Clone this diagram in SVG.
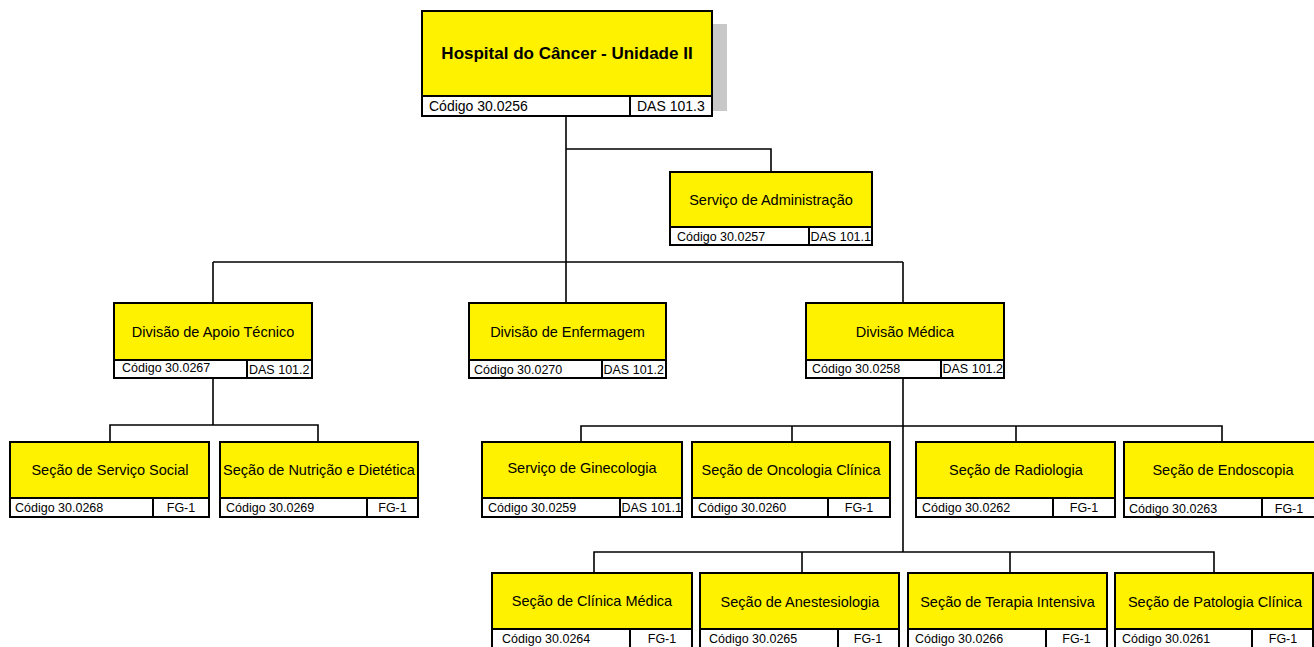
<svg xmlns="http://www.w3.org/2000/svg" width="1314" height="647" viewBox="0 0 1314 647">
<style>
.bg{fill:#ffffff}
.y{fill:#FFF200;stroke:#000;stroke-width:2}
.w{fill:#ffffff;stroke:#000;stroke-width:2}
.d{stroke:#000;stroke-width:2}
.c{fill:none;stroke:#000;stroke-width:1.6}
.lbl{font-family:"Liberation Sans",Arial,sans-serif;font-size:14.5px;fill:#000;text-anchor:middle}
.ttl{font-family:"Liberation Sans",Arial,sans-serif;font-size:17px;font-weight:bold;fill:#000;text-anchor:middle}
.cd{font-family:"Liberation Sans",Arial,sans-serif;font-size:12.5px;fill:#000}
.cdt{font-family:"Liberation Sans",Arial,sans-serif;font-size:14px;fill:#000}
.fg{font-family:"Liberation Sans",Arial,sans-serif;font-size:12.5px;fill:#000;text-anchor:middle}
</style>
<rect class="bg" x="0" y="0" width="1314" height="647"/>
<g id="connectors">
<path class="c" d="M566 116 V303"/>
<path class="c" d="M566 149 H771 V172"/>
<path class="c" d="M213 262 H903"/>
<path class="c" d="M213 262 V303"/>
<path class="c" d="M903 262 V303"/>
<path class="c" d="M213 378 V425"/>
<path class="c" d="M110 442 V425 H318 V442"/>
<path class="c" d="M903 378 V552"/>
<path class="c" d="M581 442 V426 H1222 V442"/>
<path class="c" d="M792 426 V442"/>
<path class="c" d="M1016 426 V442"/>
<path class="c" d="M594 573 V552 H1214 V573"/>
<path class="c" d="M802 552 V573"/>
<path class="c" d="M1010 552 V573"/>
</g>
<g id="n-hospital">
<rect x="712" y="24" width="15" height="87" fill="#c8c8c8"/>
<rect class="y" x="422" y="11" width="290" height="85"/>
<rect class="w" x="422" y="96" width="290" height="20"/>
<line class="d" x1="630" y1="96" x2="630" y2="116"/>
<text class="ttl" x="567" y="58.5">Hospital do Câncer - Unidade II</text>
<text class="cdt" x="429" y="110.5">Código 30.0256</text>
<text class="cdt" x="637" y="110.5">DAS 101.3</text>
</g>
<g id="n-admin">
<rect class="y" x="670" y="172" width="202" height="55"/>
<rect class="w" x="670" y="227" width="202" height="18"/>
<line class="d" x1="809" y1="227" x2="809" y2="245"/>
<text class="lbl" x="771" y="205">Serviço de Administração</text>
<text class="cd" x="677" y="240.5">Código 30.0257</text>
<text class="cd" x="810.5" y="240.5">DAS 101.1</text>
</g>
<g id="n-apoio">
<rect class="y" x="114" y="303" width="198" height="57"/>
<rect class="w" x="114" y="360" width="198" height="18"/>
<line class="d" x1="247" y1="360" x2="247" y2="378"/>
<text class="lbl" x="213" y="336.5">Divisão de Apoio Técnico</text>
<text class="cd" x="122" y="372">Código 30.0267</text>
<text class="cd" x="249" y="373.5">DAS 101.2</text>
</g>
<g id="n-enfermagem">
<rect class="y" x="469" y="303" width="197" height="57"/>
<rect class="w" x="469" y="360" width="197" height="18"/>
<line class="d" x1="602" y1="360" x2="602" y2="378"/>
<text class="lbl" x="567.5" y="336.5">Divisão de Enfermagem</text>
<text class="cd" x="474" y="373.5">Código 30.0270</text>
<text class="cd" x="603.5" y="373.5">DAS 101.2</text>
</g>
<g id="n-medica">
<rect class="y" x="806" y="303" width="198" height="57"/>
<rect class="w" x="806" y="360" width="198" height="18"/>
<line class="d" x1="941" y1="360" x2="941" y2="378"/>
<text class="lbl" x="905" y="336.5">Divisão Médica</text>
<text class="cd" x="812" y="373">Código 30.0258</text>
<text class="cd" x="942.5" y="373">DAS 101.2</text>
</g>
<g id="n-social">
<rect class="y" x="10" y="442" width="199" height="56"/>
<rect class="w" x="10" y="498" width="199" height="19"/>
<line class="d" x1="153" y1="498" x2="153" y2="517"/>
<text class="lbl" x="110" y="475">Seção de Serviço Social</text>
<text class="cd" x="15" y="512">Código 30.0268</text>
<text class="fg" x="181" y="512">FG-1</text>
</g>
<g id="n-nutricao">
<rect class="y" x="220" y="442" width="198" height="56"/>
<rect class="w" x="220" y="498" width="198" height="19"/>
<line class="d" x1="367" y1="498" x2="367" y2="517"/>
<text class="lbl" x="319" y="475">Seção de Nutrição e Dietética</text>
<text class="cd" x="226" y="512">Código 30.0269</text>
<text class="fg" x="392.5" y="512">FG-1</text>
</g>
<g id="n-ginecologia">
<rect class="y" x="482" y="442" width="200" height="56"/>
<rect class="w" x="482" y="498" width="200" height="19"/>
<line class="d" x1="620" y1="498" x2="620" y2="517"/>
<text class="lbl" x="582" y="473">Serviço de Ginecologia</text>
<text class="cd" x="488" y="512">Código 30.0259</text>
<text class="cd" x="621.5" y="512">DAS 101.1</text>
</g>
<g id="n-oncologia">
<rect class="y" x="692" y="442" width="198" height="56"/>
<rect class="w" x="692" y="498" width="198" height="19"/>
<line class="d" x1="828" y1="498" x2="828" y2="517"/>
<text class="lbl" x="791" y="475">Seção de Oncologia Clínica</text>
<text class="cd" x="698" y="512">Código 30.0260</text>
<text class="fg" x="859" y="512">FG-1</text>
</g>
<g id="n-radiologia">
<rect class="y" x="916" y="442" width="199" height="56"/>
<rect class="w" x="916" y="498" width="199" height="19"/>
<line class="d" x1="1053" y1="498" x2="1053" y2="517"/>
<text class="lbl" x="1016" y="475">Seção de Radiologia</text>
<text class="cd" x="922" y="512">Código 30.0262</text>
<text class="fg" x="1084" y="512">FG-1</text>
</g>
<g id="n-endoscopia">
<rect class="y" x="1124" y="442" width="198" height="56"/>
<rect class="w" x="1124" y="498" width="198" height="19"/>
<line class="d" x1="1262" y1="498" x2="1262" y2="517"/>
<text class="lbl" x="1223" y="475">Seção de Endoscopia</text>
<text class="cd" x="1129" y="513">Código 30.0263</text>
<text class="fg" x="1289" y="513">FG-1</text>
</g>
<g id="n-clinica">
<rect class="y" x="492" y="573" width="200" height="56"/>
<rect class="w" x="492" y="629" width="200" height="19"/>
<line class="d" x1="630" y1="629" x2="630" y2="648"/>
<text class="lbl" x="592" y="606">Seção de Clínica Médica</text>
<text class="cd" x="502" y="643">Código 30.0264</text>
<text class="fg" x="662" y="643">FG-1</text>
</g>
<g id="n-anestesiologia">
<rect class="y" x="700" y="573" width="199" height="56"/>
<rect class="w" x="700" y="629" width="199" height="19"/>
<line class="d" x1="838" y1="629" x2="838" y2="648"/>
<text class="lbl" x="800" y="607">Seção de Anestesiologia</text>
<text class="cd" x="709" y="643">Código 30.0265</text>
<text class="fg" x="868" y="643">FG-1</text>
</g>
<g id="n-terapia">
<rect class="y" x="908" y="573" width="199" height="56"/>
<rect class="w" x="908" y="629" width="199" height="19"/>
<line class="d" x1="1046" y1="629" x2="1046" y2="648"/>
<text class="lbl" x="1007.5" y="607">Seção de Terapia Intensiva</text>
<text class="cd" x="915" y="643">Código 30.0266</text>
<text class="fg" x="1076.5" y="643">FG-1</text>
</g>
<g id="n-patologia">
<rect class="y" x="1115" y="573" width="198" height="56"/>
<rect class="w" x="1115" y="629" width="198" height="19"/>
<line class="d" x1="1252" y1="629" x2="1252" y2="648"/>
<text class="lbl" x="1215" y="607">Seção de Patologia Clínica</text>
<text class="cd" x="1122" y="643">Código 30.0261</text>
<text class="fg" x="1283" y="643">FG-1</text>
</g>
</svg>
